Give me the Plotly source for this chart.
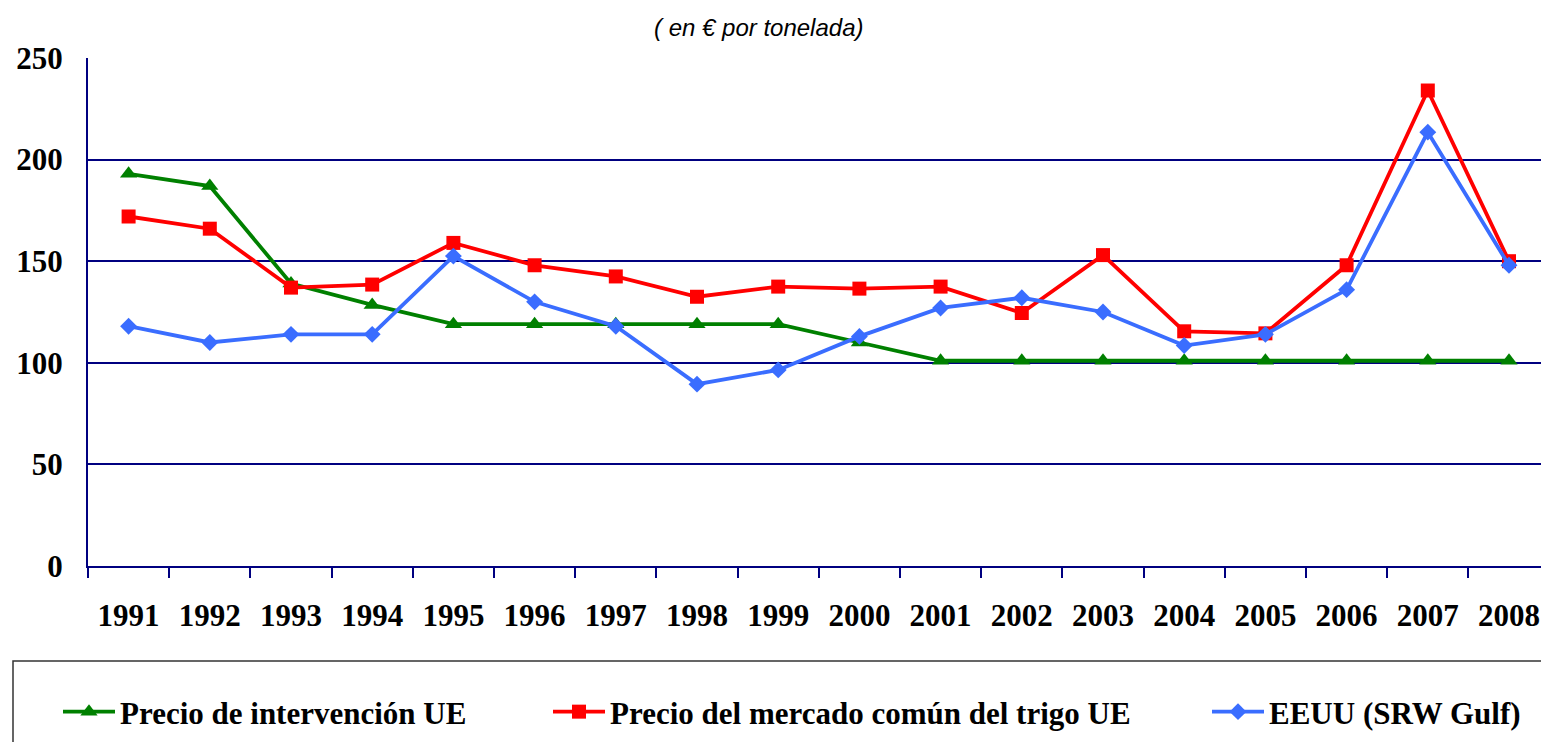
import plotly.graph_objects as go

years = [str(y) for y in range(1991, 2009)]
intervencion = [193, 187, 139, 128.5, 119, 119, 119, 119, 119, 110, 101, 101, 101, 101, 101, 101, 101, 101]
mercado_ue = [172, 166, 137, 138.5, 159, 148, 142.5, 132.5, 137.5, 136.5, 137.5, 124.5, 153, 115.5, 114.5, 148, 234, 150]
eeuu = [118, 110, 114, 114, 152.5, 130, 118, 89.5, 96.5, 113, 127, 132, 125, 108.5, 114, 136, 213.5, 148]

names = ["Precio de intervención UE", "Precio del mercado común del trigo UE", "EEUU (SRW Gulf)"]
colors = ["#008000", "#FF0000", "#3A6DFF"]
symbols = ["triangle-up", "square", "diamond"]
sizes = [15, 14, 13]
series = [intervencion, mercado_ue, eeuu]

W, H = 1541, 742
ml, mt = 88, 58
bottom_px = 566
mb = H - bottom_px
pw, ph = W - ml, H - mt - mb

fig = go.Figure()
legend_ids = ["legend", "legend2", "legend3"]
for i in range(3):
    fig.add_trace(go.Scatter(
        x=years, y=series[i], name=names[i], mode="lines+markers",
        line=dict(color=colors[i], width=3.8),
        marker=dict(symbol=symbols[i], size=sizes[i], color=colors[i]),
        legend=legend_ids[i], cliponaxis=False,
    ))

def px_x(px):
    return (px - ml) / pw

def px_y(py):
    return (bottom_px - py) / ph

leg_font = dict(family="Liberation Serif", size=31, color="black", weight="bold")
leg_x = [58, 548, 1207]
legs = {}
for i, lid in enumerate(legend_ids):
    legs[lid] = dict(x=px_x(leg_x[i]), y=px_y(712), xanchor="left", yanchor="middle",
                     orientation="h", font=leg_font, bgcolor="rgba(0,0,0,0)",
                     itemwidth=52, borderwidth=0)

fig.update_layout(
    width=W, height=H,
    margin=dict(l=ml, r=0, t=mt, b=mb, pad=0),
    plot_bgcolor="white", paper_bgcolor="white",
    showlegend=True,
    **legs,
    xaxis=dict(
        type="category", range=[-0.5, -0.5 + (W - ml) / 81.2],
        showgrid=False, showline=True, linecolor="#000080", linewidth=2,
        ticks="outside", tickson="boundaries", ticklen=10, tickwidth=2, tickcolor="#000080",
        tickfont=dict(family="Liberation Serif", size=31, color="black", weight="bold"),
        ticklabelstandoff=21, zeroline=False,
    ),
    yaxis=dict(
        range=[0, 250], tickvals=[0, 50, 100, 150, 200, 250],
        showgrid=True, gridcolor="#000080", gridwidth=1.8,
        showline=True, linecolor="#000080", linewidth=2,
        ticks="", tickfont=dict(family="Liberation Serif", size=31, color="black", weight="bold"),
        ticklabelstandoff=17, zeroline=False,
    ),
    font=dict(family="Liberation Serif"),
    annotations=[dict(
        text="<i>( en € por tonelada)</i>", x=px_x(758), y=px_y(27),
        xref="paper", yref="paper", showarrow=False, xanchor="center", yanchor="middle",
        font=dict(family="Liberation Sans", size=24, color="black"),
    )],
    shapes=[dict(
        type="rect", xref="paper", yref="paper",
        x0=px_x(13), x1=px_x(1560), y0=px_y(661), y1=px_y(760),
        line=dict(color="#333333", width=1.5), fillcolor="rgba(0,0,0,0)", layer="below",
    )],
)

fig.write_html(
    "out.html",
    config={"displayModeBar": False},
    post_script="document.body.style.margin='0';document.body.style.overflow='hidden';",
)
